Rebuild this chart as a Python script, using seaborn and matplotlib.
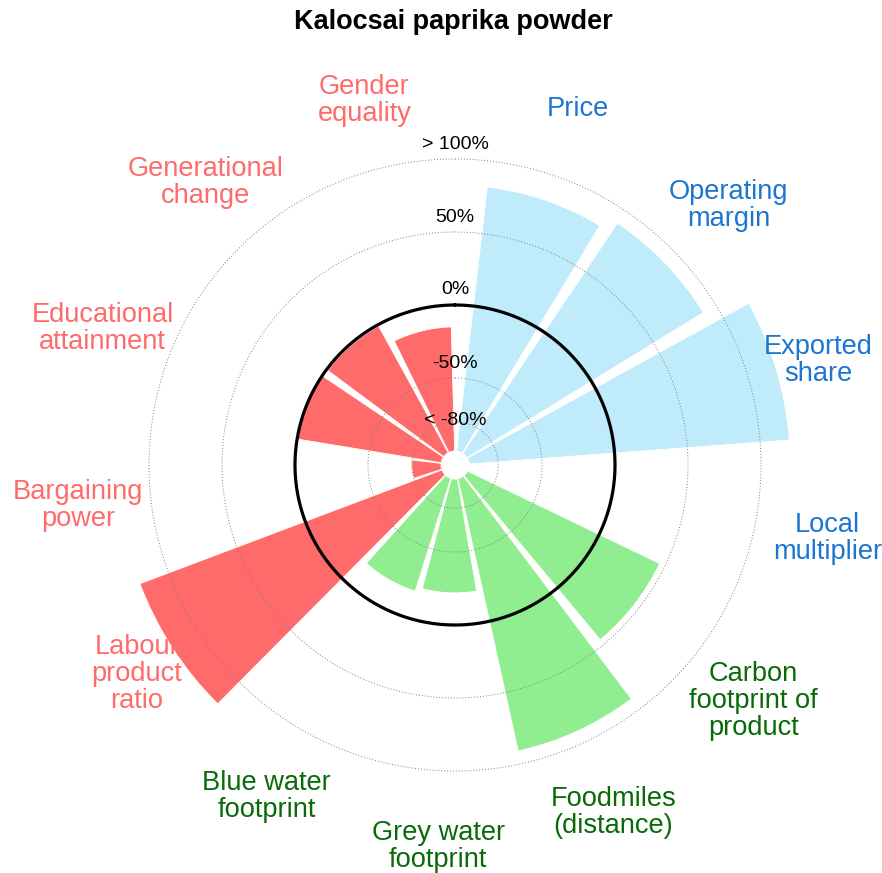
import numpy as np
import matplotlib
matplotlib.use("Agg")
import matplotlib.pyplot as plt
import seaborn as sns

# ---------------- data ----------------
categories = ["Price", "Operating\nmargin", "Exported\nshare", "Local\nmultiplier",
              "Carbon\nfootprint of\nproduct", "Foodmiles\n(distance)", "Grey water\nfootprint",
              "Blue water\nfootprint", "Labour\nproduct\nratio", "Bargaining\npower",
              "Educational\nattainment", "Generational\nchange", "Gender\nequality"]
groups = ["economic", "economic", "economic", "economic",
          "environmental", "environmental", "environmental", "environmental",
          "social", "social", "social", "social", "social"]
values = [82, 90, 120, -100, 46, 91, -22, -19, 121, -80, 0, -1, -15]
tick_values = [-80, -50, 0, 50, 100]
tick_labels = ["< -80%", "-50%", "0%", "50%", "> 100%"]
title = "Kalocsai paprika powder"

bar_colors = {"economic": "#BFEBFB", "environmental": "#90EE90", "social": "#FF6A6A"}
text_colors = {"economic": "#1C75D0", "environmental": "#0A6A0A", "social": "#FF6A6A"}

# ---------------- style ----------------
sns.set_theme(style="white")
plt.rcParams["font.family"] = ["Liberation Sans", "DejaVu Sans"]

W, H = 882, 873
fig = plt.figure(figsize=(W / 100, H / 100), dpi=100)
cx, cy = 455, 465          # centre in pixels (from top)
R = 379                    # pixel radius of axes edge
ax = fig.add_axes([(cx - R) / W, (H - cy - R) / H, 2 * R / W, 2 * R / H], projection="polar")
ax.set_theta_zero_location("N")
ax.set_theta_direction(-1)
ax.set_rorigin(-109.6)
ax.set_ylim(-100, 150)
ax.grid(False)
ax.set_xticks([])
ax.set_yticks([])
for s in ax.spines.values():
    s.set_visible(False)
ax.set_frame_on(False)
ax.patch.set_visible(False)

n = len(categories)
step = 2 * np.pi / (n + 0.2)
start = np.deg2rad(18.9)
theta = start + step * np.arange(n)

cols = [bar_colors[g] for g in groups]
heights = [v + 100 for v in values]
ax.bar(theta, heights, width=step * 0.9, bottom=-100, color=cols,
       edgecolor="white", linewidth=0.6, zorder=2)

# reference circles
tt = np.linspace(0, 2 * np.pi, 500)
for v in tick_values:
    if v == 0:
        ax.plot(tt, np.full_like(tt, v), color="black", lw=2.3, zorder=4)
    else:
        ax.plot(tt, np.full_like(tt, v), color="#808080", lw=0.7,
                linestyle=(0, (1, 2)), zorder=3)

# radial tick labels
offsets = [1, 14, 15, 14, 14]
for v, lab, off in zip(tick_values, tick_labels, offsets):
    ax.annotate(lab, xy=(0, v), xytext=(0, off * 0.72), textcoords="offset points",
                ha="center", va="center", fontsize=14, color="black", zorder=5)

# category labels
for th, lab, g in zip(theta, categories, groups):
    ax.annotate(lab, xy=(th, 150), xytext=(0, -2.2), textcoords="offset points",
                ha="center", va="center", fontsize=19.6, annotation_clip=False,
                color=text_colors[g], linespacing=1.05, zorder=5)

fig.text(453 / W, 1 - 22 / H, title, ha="center", va="center",
         fontsize=19.5, fontweight="bold", color="black")

fig.savefig("out.png", dpi=100)
